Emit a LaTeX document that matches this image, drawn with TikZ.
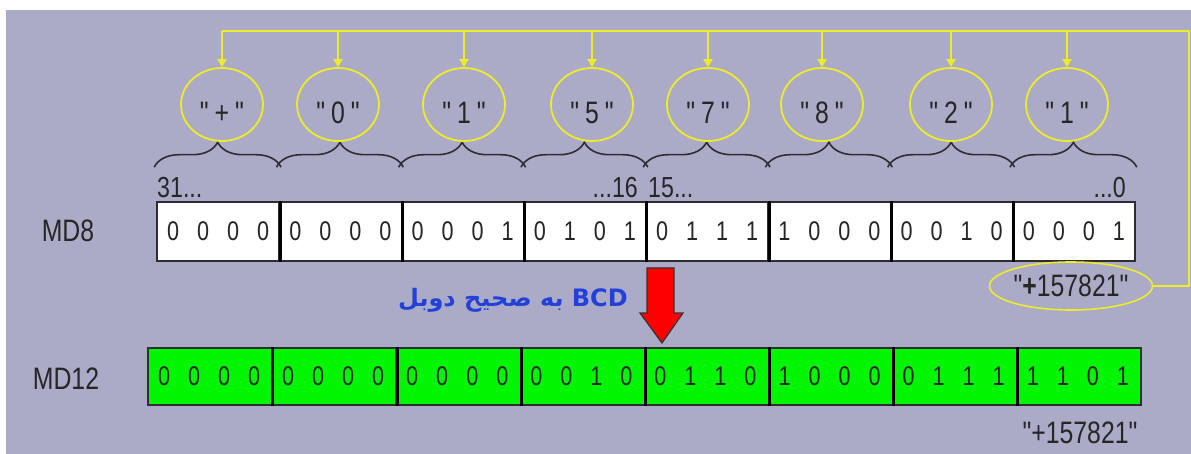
\documentclass[tikz,border=0pt]{standalone}
\usepackage{fontspec}
\setmainfont{Liberation Sans}
\newfontfamily\narrow{Liberation Sans}[FakeStretch=0.8]
\newfontfamily\farsi[Script=Arabic]{DejaVu Sans}
\TeXXeTstate=1
\usetikzlibrary{shapes.geometric,decorations.pathreplacing,arrows.meta}
\definecolor{bg}{RGB}{171,171,200}
\definecolor{yel}{RGB}{236,236,40}
\definecolor{brc}{RGB}{45,45,50}
\definecolor{bitgreen}{RGB}{0,245,0}
\definecolor{fablue}{RGB}{35,65,215}
\begin{document}
\begin{tikzpicture}[x=1pt,y=-1pt,
  bus/.style={draw=yel, line width=2pt},
  charell/.style={ellipse, draw=yel, line width=1.8pt, minimum width=82pt,
    minimum height=73pt, inner sep=0pt, text=black!85,
    text height=38pt, text depth=0pt,
    font=\narrow\fontsize{31}{31}\selectfont},
  nib8/.style={rectangle, draw=brc, fill=white, line width=1.6pt,
    minimum width=122.25pt, minimum height=59pt, inner sep=0pt},
  nib12/.style={rectangle, draw=brc, fill=bitgreen, line width=1.6pt,
    minimum width=124.1pt, minimum height=57pt, inner sep=0pt},
  bit/.style={font=\narrow\fontsize{27}{27}\selectfont, inner sep=0pt, text=black!85},
  reglbl/.style={font=\narrow\fontsize{31}{31}\selectfont, inner sep=0pt, text=black!85},
  idx/.style={font=\narrow\fontsize{29}{29}\selectfont, inner sep=0pt, text=black!85},
  strval/.style={font=\narrow\fontsize{31}{31}\selectfont, inner sep=0pt, text=black!85},
  divider/.style={draw=black, line width=3pt},
  bitbrace/.style={draw=brc, line width=1.6pt,
    decorate, decoration={brace, amplitude=25pt}},
]
% frame and background
\useasboundingbox (0,0) rectangle (1191,454);
\fill[white] (0,0) rectangle (1191,454);
\fill[bg] (6,10) rectangle (1191,454);

% register labels
\node[reglbl] (l8) at (68,231) {MD8};
\node[reglbl] (l12) at (66,379) {MD12};

% MD8 nibbles
\foreach \a/\b/\c/\d [count=\i] in {0/0/0/0,0/0/0/0,0/0/0/1,0/1/0/1,0/1/1/1,1/0/0/0,0/0/1/0,0/0/0/1}{
  \node[nib8] (m8-\i) at ({157+122.25*(\i-0.5)},231.5) {};
  \path (m8-\i.center) ++(-45,0) node[bit] (b8-\i-1) {\a}
        (m8-\i.center) ++(-15,0) node[bit] (b8-\i-2) {\b}
        (m8-\i.center) ++(15,0)  node[bit] (b8-\i-3) {\c}
        (m8-\i.center) ++(45,0)  node[bit] (b8-\i-4) {\d};
}
% MD12 nibbles
\foreach \a/\b/\c/\d [count=\i] in {0/0/0/0,0/0/0/0,0/0/0/0,0/0/1/0,0/1/1/0,1/0/0/0,0/1/1/1,1/1/0/1}{
  \node[nib12] (m12-\i) at ({148+124.1*(\i-0.5)},376.5) {};
  \path (m12-\i.center) ++(-46,0) node[bit] (b12-\i-1) {\a}
        (m12-\i.center) ++(-16,0) node[bit] (b12-\i-2) {\b}
        (m12-\i.center) ++(14,0)  node[bit] (b12-\i-3) {\c}
        (m12-\i.center) ++(44,0)  node[bit] (b12-\i-4) {\d};
}
\foreach \i in {1,...,7}{
  \draw[divider] (m8-\i.north east) -- (m8-\i.south east);
  \draw[divider] (m12-\i.north east) -- (m12-\i.south east);
}

% bit index labels
\node[idx, anchor=base west] (i31) at (157,198) {31...};
\node[idx, anchor=base east] (i16) at (638,198) {...16};
\node[idx, anchor=base west] (i15) at (648,198) {15...};
\node[idx, anchor=base east] (i0) at (1126,198) {...0};

% braces over each nibble
\foreach \i in {1,...,8}{
  \draw[bitbrace] ([xshift=-2pt,yshift=34pt]m8-\i.north west) -- ([xshift=1pt,yshift=34pt]m8-\i.north east);
}

% character ellipses
\foreach \x/\ch [count=\i] in {222/+,338/0,464/1,592/5,708/7,822/8,951/2,1067/1}{
  \node[charell] (e\i) at (\x,104.5) {"\hspace{6pt}\ch\hspace{6pt}"};
}

% string value
\node[ellipse, draw=yel, line width=1.6pt, minimum width=163pt, minimum height=48pt,
      inner sep=0pt, strval] (pv) at (1071,286) {"\textbf{+}157821"};
\node[strval] (pv12) at (1080,433) {"+157821"};

% yellow bus
\coordinate (busR) at (1189,31);
\draw[bus] (e1.north |- busR) -- (busR) |- (pv.east);
\foreach \i in {1,...,8}{
  \draw[bus, -{Triangle[width=9pt,length=8pt]}] (e\i.north |- busR) -- (e\i.north);
}

% conversion arrow
\draw[draw=black!80, fill=red, line width=1.2pt, line join=miter]
  (647,268) -- (674,268) -- (674,313) -- (683,313) -- (662,343) -- (640,313) -- (647,313) -- cycle;
\node[anchor=east, text=fablue, inner sep=0pt, font=\farsi\bfseries\fontsize{24}{24}\selectfont]
  (conv) at (628,300) {\beginR\beginL BCD\endL{} به صحیح دوبل\endR};
\end{tikzpicture}
\end{document}
